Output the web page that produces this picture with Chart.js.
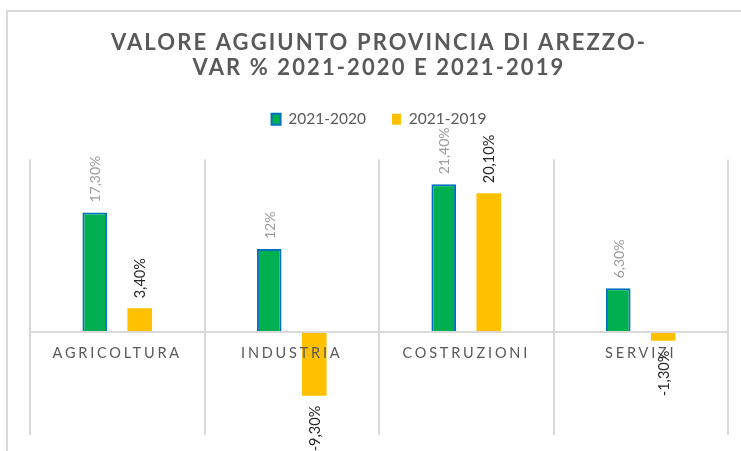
<!DOCTYPE html>
<html><head><meta charset="utf-8">
<script src="https://cdn.jsdelivr.net/npm/chart.js@4/dist/chart.umd.min.js"></script>
<style>
html,body{margin:0;padding:0;background:#fff;overflow:hidden;width:741px;height:451px}
#frame{position:absolute;left:6px;top:10px;width:800px;height:500px;border-left:2px solid #d9d9d9;border-top:2px solid #d9d9d9;box-sizing:border-box}
#wrap{position:absolute;left:0;top:0;width:741px;height:451px}
</style></head><body>
<div id="frame"></div>
<div id="wrap"><canvas id="c" width="741" height="451"></canvas></div>
<script>
// ---- data ----
const categories = ['AGRICOLTURA', 'INDUSTRIA', 'COSTRUZIONI', 'SERVIZI'];
const seriesNames = ['2021-2020', '2021-2019'];
const var2021_2020 = [17.3, 12, 21.4, 6.3];
const var2021_2019 = [3.4, -9.3, 20.1, -1.3];
const titleLines = ['VALORE AGGIUNTO PROVINCIA DI AREZZO-', 'VAR % 2021-2020 E 2021-2019'];
const yMin = -15;
const yMax = 25;

// ---- helpers ----
function fmtPct(v) {
  if (Number.isInteger(v)) return v + '%';
  return v.toFixed(2).replace('.', ',') + '%';
}

const spacingPlugin = {
  id: 'spacing',
  beforeDraw(chart) {
    if (chart.$patched) return;
    chart.$patched = true;
    const ctx = chart.ctx;
    const xs = chart.scales.x;
    const origLabels = xs.drawLabels;
    xs.drawLabels = function (area) {
      ctx.save(); ctx.letterSpacing = '2.8px';
      origLabels.call(this, area);
      ctx.restore();
    };
    const tb = chart.titleBlock;
    if (tb) {
      const origDraw = tb.draw;
      tb.draw = function () {
        ctx.save(); ctx.letterSpacing = '2.1px';
        origDraw.apply(this, arguments);
        ctx.restore();
      };
    }
  }
};

const valueLabels = {
  id: 'valueLabels',
  afterDraw(chart) {
    const ctx = chart.ctx;
    chart.data.datasets.forEach((ds, i) => {
      const meta = chart.getDatasetMeta(i);
      meta.data.forEach((bar, j) => {
        const v = ds.data[j];
        ctx.save();
        ctx.font = ds.labelFont;
        ctx.fillStyle = ds.labelColor;
        ctx.translate(bar.x + 1, bar.y + (v >= 0 ? -10 : 10));
        ctx.rotate(-Math.PI / 2);
        ctx.textAlign = v >= 0 ? 'left' : 'right';
        ctx.textBaseline = 'middle';
        ctx.fillText(fmtPct(v), 0, 0);
        ctx.restore();
      });
    });
  }
};

new Chart(document.getElementById('c'), {
  type: 'bar',
  data: {
    labels: categories,
    datasets: [
      {
        label: seriesNames[0], data: var2021_2020,
        backgroundColor: '#00B050', borderColor: '#0070C0', borderWidth: 2,
        labelColor: '#9a9a9a', labelFont: '14px Lato',
        categoryPercentage: 0.516, barPercentage: 0.547
      },
      {
        label: seriesNames[1], data: var2021_2019,
        backgroundColor: '#FFC000', borderColor: '#FFC000', borderWidth: 0,
        labelColor: '#262626', labelFont: '14.5px Lato',
        categoryPercentage: 0.516, barPercentage: 0.547
      }
    ]
  },
  options: {
    responsive: false,
    animation: false,
    devicePixelRatio: 1,
    layout: { padding: { left: 30, right: 13, top: 0, bottom: 16 } },
    plugins: {
      title: {
        display: true, text: titleLines, color: '#595959',
        font: { family: 'Lato', size: 22, weight: 'bold', lineHeight: 1.16 },
        padding: { top: 30, bottom: 4.5 }
      },
      subtitle: {
        display: true, text: '', weight: 500,
        font: { size: 10, lineHeight: 1 },
        padding: { top: 0, bottom: 12.5 }
      },
      legend: {
        display: true, position: 'top',
        labels: {
          color: '#595959', font: { family: 'Lato', size: 15.5 },
          boxWidth: 9, boxHeight: 11, padding: 26
        }
      },
      tooltip: { enabled: false }
    },
    scales: {
      x: {
        position: { y: 0 },
        grid: { color: '#d9d9d9', lineWidth: 2, drawTicks: false, offset: true },
        border: { color: '#d9d9d9', width: 2, z: 1 },
        ticks: {
          color: '#595959', font: { family: 'Lato', size: 14.5 },
          padding: 13, autoSkip: false, maxRotation: 0, z: 1
        }
      },
      y: {
        display: false, min: yMin, max: yMax
      }
    }
  },
  plugins: [spacingPlugin, valueLabels]
});
</script>
</body></html>
